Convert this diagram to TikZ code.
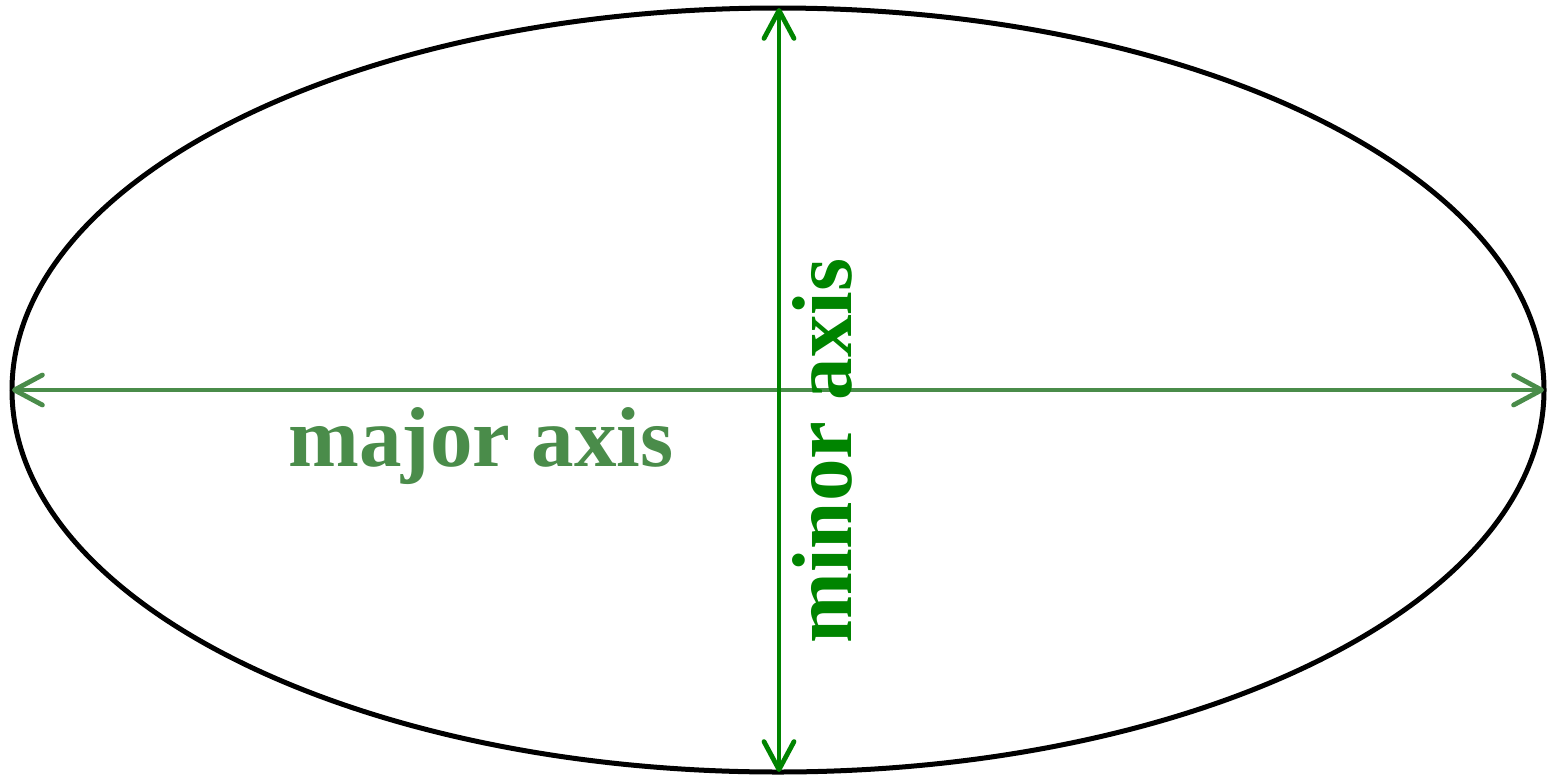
\documentclass[tikz,border=0pt]{standalone}
\usepackage{fontspec}
\setmainfont{Liberation Serif}
\usetikzlibrary{arrows.meta}
\definecolor{majgreen}{RGB}{74,140,74}
\definecolor{mingreen}{RGB}{0,132,0}
\tikzset{
  axisarrow/.style={line width=2.4pt, line cap=round, {Straight Barb[length=14pt,width=15pt,line cap=round,line join=round]}-{Straight Barb[length=14pt,width=15pt,line cap=round,line join=round]}},
  axislabel/.style={font=\fontsize{42.5}{46}\selectfont\bfseries, inner sep=0pt}
}
\begin{document}
\begin{tikzpicture}[x=0.5pt,y=-0.5pt]
\useasboundingbox (0,0) rectangle (1547,777);
\draw[line width=2.5pt] (778,390) ellipse [x radius=766, y radius=382];
\coordinate (L) at (12,390);
\coordinate (R) at (1544,390);
\coordinate (T) at (779,8);
\coordinate (B) at (779,772);
\draw[axisarrow, majgreen] (L) -- (R);
\draw[axisarrow, mingreen] (T) -- (B);
\node[axislabel, text=majgreen, anchor=base] (maj) at (481,466) {major axis};
\node[axislabel, text=mingreen, anchor=base, rotate=90] (min) at (851,451) {minor axis};
\end{tikzpicture}
\end{document}
